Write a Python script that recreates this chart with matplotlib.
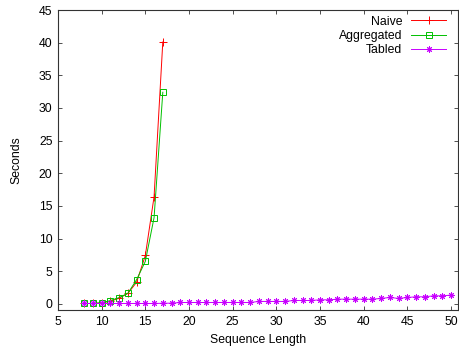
import matplotlib
matplotlib.use("Agg")
import matplotlib.pyplot as plt

# timings
naive_len = [8, 9, 10, 11, 12, 13, 14, 15, 16, 17]
naive_sec = [0.05, 0.05, 0.15, 0.4, 0.85, 1.6, 3.3, 7.4, 16.4, 40.1]

agg_len = [8, 9, 10, 11, 12, 13, 14, 15, 16, 17]
agg_sec = [0.05, 0.05, 0.15, 0.5, 0.95, 1.6, 3.7, 6.5, 13.2, 32.4]

tabled_len = list(range(8, 51))
tabled_sec = [0.05, 0.05, 0.05, 0.05, 0.05, 0.05, 0.05, 0.05, 0.05, 0.08,
              0.1, 0.2, 0.2, 0.2, 0.2, 0.2, 0.2, 0.2, 0.2, 0.2,
              0.36, 0.36, 0.36, 0.36, 0.51, 0.51, 0.51, 0.61, 0.61, 0.71,
              0.71, 0.71, 0.71, 0.71, 0.82, 0.97, 0.82, 0.97, 1.07, 1.07,
              1.22, 1.22, 1.33]

xticks = [5, 10, 15, 20, 25, 30, 35, 40, 45, 50]
yticks = [0, 5, 10, 15, 20, 25, 30, 35, 40, 45]

plt.rcParams['font.family'] = ['Liberation Sans', 'DejaVu Sans']
plt.rcParams['font.size'] = 8.8

fig = plt.figure(figsize=(4.59, 3.54), dpi=100)
ax = fig.add_axes([58 / 459, 44 / 354, 400 / 459, 300 / 354])

ax.plot(naive_len, naive_sec, color='#ff0000', lw=0.7, marker='+', ms=6,
        mew=0.7, label='Naive')
ax.plot(agg_len, agg_sec, color='#00c000', lw=0.7, marker='s', ms=5,
        mew=0.7, mfc='none', label='Aggregated')
ax.plot(tabled_len, tabled_sec, color='#c800ff', lw=0.7, marker=(8, 2, 0),
        ms=4.5, mew=0.7, label='Tabled')

ax.set_xlim(5, 50.8)
ax.set_ylim(-0.95, 45)
ax.set_xticks(xticks)
ax.set_yticks(yticks)
ax.tick_params(direction='in', length=3, width=0.6, top=True, right=True,
               colors='#333333', labelcolor='black', pad=4)
for s in ax.spines.values():
    s.set_linewidth(0.8)
    s.set_color('#333333')

ax.set_xlabel('Sequence Length', labelpad=5)
ax.set_ylabel('Seconds', labelpad=12)

ax.legend(loc='upper right', frameon=False, markerfirst=False,
          handlelength=2.9, handletextpad=0.7, labelspacing=0.2,
          borderaxespad=0.3, bbox_to_anchor=(0.992, 1.01))

fig.savefig('out.png', dpi=100)
